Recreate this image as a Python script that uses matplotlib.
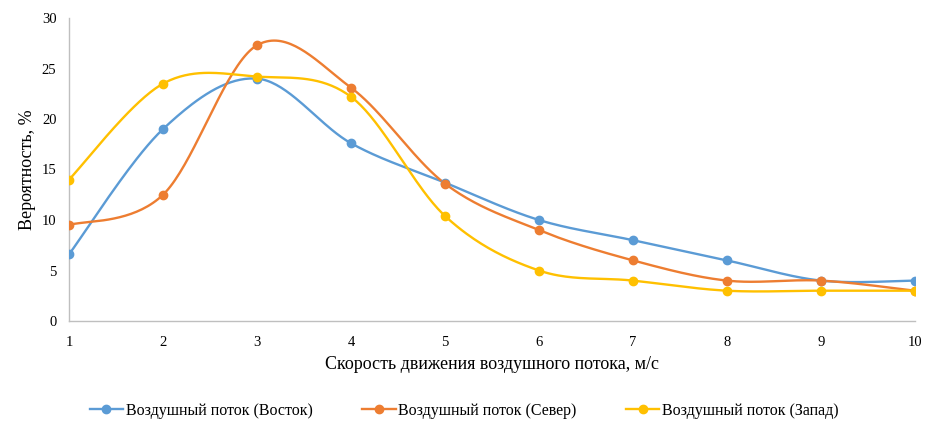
import numpy as np
import matplotlib
matplotlib.use("Agg")
import matplotlib.pyplot as plt
from matplotlib.lines import Line2D

plt.rcParams["font.family"] = ["Liberation Serif", "DejaVu Serif"]

speed = [1, 2, 3, 4, 5, 6, 7, 8, 9, 10]
east = [6.6, 19.0, 24.0, 17.6, 13.7, 10.0, 8.0, 6.0, 4.0, 4.0]
north = [9.5, 12.5, 27.3, 23.1, 13.6, 9.0, 6.0, 4.0, 4.0, 3.0]
west = [14.0, 23.5, 24.2, 22.2, 10.4, 5.0, 4.0, 3.0, 3.0, 3.0]

labels = ["Воздушный поток (Восток)", "Воздушный поток (Север)", "Воздушный поток (Запад)"]
colors = ["#5b9bd5", "#ed7d31", "#ffc000"]


def smooth(x, y, n=40):
    # excel-like smoothed line: catmull-rom as cubic bezier
    x = np.asarray(x, float)
    y = np.asarray(y, float)
    px = np.concatenate([[x[0]], x, [x[-1]]])
    py = np.concatenate([[y[0]], y, [y[-1]]])
    xs, ys = [], []
    t = np.linspace(0, 1, n)
    for i in range(1, len(px) - 2):
        p1 = np.array([px[i], py[i]])
        p2 = np.array([px[i + 1], py[i + 1]])
        c1 = p1 + (p2 - np.array([px[i - 1], py[i - 1]])) / 6
        c2 = p2 - (np.array([px[i + 2], py[i + 2]]) - p1) / 6
        b = ((1 - t) ** 3)[:, None] * p1 + (3 * (1 - t) ** 2 * t)[:, None] * c1 \
            + (3 * (1 - t) * t ** 2)[:, None] * c2 + (t ** 3)[:, None] * p2
        xs.extend(b[:, 0])
        ys.extend(b[:, 1])
    return xs, ys


fig = plt.figure(figsize=(9.28, 4.22), dpi=100)
ax = fig.add_axes([69 / 928, 1 - 321 / 422, 846 / 928, 303 / 422])

handles = []
for vals, c, lab in zip([east, north, west], colors, labels):
    sx, sy = smooth(speed, vals)
    ax.plot(sx, sy, color=c, lw=1.7, solid_capstyle="round", zorder=2)
    ax.plot(speed, vals, "o", color=c, ms=6, zorder=3)
    handles.append(Line2D([], [], color=c, lw=1.7, marker="o", ms=6, label=lab))

ax.set_xlim(1, 10)
ax.set_ylim(0, 30)
ax.set_xticks(speed)
ax.set_yticks(range(0, 31, 5))
ax.tick_params(length=0, labelsize=10.5, colors="#000000")
ax.tick_params(axis="x", pad=11)
ax.tick_params(axis="y", pad=9)
for s in ["top", "right"]:
    ax.spines[s].set_visible(False)
for s in ["left", "bottom"]:
    ax.spines[s].set_color("#bfbfbf")
    ax.spines[s].set_linewidth(1)

ax.set_xlabel("Скорость движения воздушного потока, м/с", fontsize=13, labelpad=5)
ax.set_ylabel("Вероятность, %", fontsize=13, labelpad=4)

fig.legend(handles=handles, loc="center", bbox_to_anchor=(0.5, 1 - 411 / 422),
           ncol=3, frameon=False, fontsize=11.5, handlelength=2.1,
           handletextpad=0.15, columnspacing=3.1)

fig.savefig("out.png", dpi=100)
